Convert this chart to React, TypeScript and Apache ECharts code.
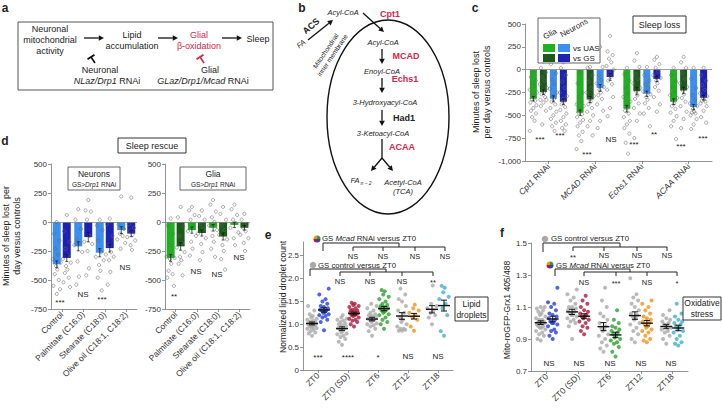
import React, { useEffect, useRef } from 'react';
import * as echarts from 'echarts';

const FF = "'Liberation Sans', Arial, Helvetica, sans-serif";
const RED = '#d3264a';
const LG = '#1fb21f';
const DG = '#1b5a1b';
const LB = '#3a8ff0';
const DB = '#1e22b4';
const GRAY = '#a9a9a9';

// ---------- panel c : sleep loss ----------
const cGenes = ['Cpt1', 'MCAD', 'Echs1', 'ACAA'];
const cGliaUAS = [-319, -471, -428, -351];
const cGliaGS = [-246, -326, -236, -228];
const cNeuronUAS = [-319, -200, -264, -409];
const cNeuronGS = [-351, -80, -101, -308];
const cPtsGliaUAS = [
  [-30, -80, -120, -150, -180, -220, -250, -270, -290, -320, -340, -360, -390, -420, -450, -480, -520, -560, -670],
  [-30, -150, -250, -300, -350, -380, -400, -430, -450, -470, -490, -520, -550, -580, -620, -680, -720, -780, -870],
  [20, -50, -120, -200, -260, -300, -350, -390, -420, -450, -480, -520, -560, -600, -640, -700, -800, -920],
  [20, -60, -130, -190, -240, -280, -310, -340, -370, -400, -430, -470, -510, -560, -620, -760],
];
const cPtsGliaGS = [
  [90, 20, -30, -80, -120, -160, -200, -230, -250, -270, -300, -330, -330, -360, -400, -450, -600],
  [30, 20, -60, -130, -200, -250, -290, -320, -350, -380, -420, -460, -500, -560, -620, -720],
  [180, 100, 30, -50, -100, -150, -200, -240, -280, -320, -370, -420, -480, -560, -750],
  [140, 80, 20, -40, -100, -150, -190, -230, -270, -310, -350, -400, -460, -540, -640],
];
const cPtsNeuronUAS = [
  [110, 60, -40, -110, -160, -210, -250, -290, -320, -350, -380, -420, -460, -500, -540, -580, -620, -670],
  [250, 100, 30, -60, -110, -150, -190, -220, -250, -280, -320, -380, -450, -560, -640],
  [30, -60, -120, -160, -200, -240, -270, -300, -330, -370, -420, -480, -620],
  [20, -100, -200, -280, -330, -370, -400, -430, -460, -470, -480, -500, -540, -600, -650],
];
const cPtsNeuronGS = [
  [80, 20, -60, -130, -200, -250, -290, -320, -350, -380, -410, -440, -480, -520, -560, -600, -640, -670],
  [370, 200, 160, 120, 80, 40, 0, -40, -80, -120, -160, -220, -300, -420, -510],
  [140, 110, 60, 20, -20, -60, -90, -120, -150, -190, -230, -300, -380, -460],
  [20, -60, -120, -170, -220, -260, -290, -310, -330, -340, -350, -370, -400, -450, -520, -580],
];

// ---------- panel d : sleep rescue ----------
const dConditions = ['Control', 'Palmitate (C16:0)', 'Stearate (C18:0)', 'Olive oil (C18:1, C18:2)'];
const dNeuLight = [-365, -210, -265, -70];
const dNeuDark = [-310, -130, -225, -100];
const dGliaLight = [-310, -70, -50, -25];
const dGliaDark = [-210, -95, -125, -50];
const dPtsNeuLight = [
  [0, -100, -160, -230, -280, -320, -350, -380, -410, -450, -500, -550, -580, -620],
  [110, 20, -60, -150, -180, -200, -260, -340, -470, -540],
  [20, -30, -70, -160, -260, -300, -330, -370, -420, -480, -590],
  [220, -20, -60, -100, -120, -150, -180, -230],
];
const dPtsNeuDark = [
  [60, -80, -170, -230, -290, -320, -350, -380, -410, -440, -480, -520, -560],
  [190, 100, 90, 20, -120, -170, -190, -250, -400, -460],
  [30, -20, -120, -200, -260, -280, -300, -330, -430, -540],
  [210, -20, -50, -80, -110, -130, -160, -200, -240],
];
const dPtsGliaLight = [
  [30, -30, -100, -200, -280, -300, -310, -320, -360, -420, -450, -480, -550],
  [130, 100, 60, 20, -30, -80, -120, -170, -230, -290],
  [190, 150, 90, 40, 0, -30, -70, -120, -170, -230, -300],
  [150, 110, 60, 20, -10, -50, -90, -140, -200],
];
const dPtsGliaDark = [
  [130, 40, -40, -120, -180, -220, -260, -300, -330, -360, -460],
  [100, 50, 20, -20, -60, -100, -140, -190, -260, -330],
  [130, 70, 20, -30, -70, -110, -150, -200, -250, -320, -410],
  [70, 20, -20, -50, -80, -110, -140, -180, -250],
];

// ---------- panels e / f ----------
const zt = ['ZT0', 'ZT0 (SD)', 'ZT6', 'ZT12', 'ZT18'];
const mcadColors = ['#2340d8', '#a81c3c', '#2f9e2f', '#f0921a', '#41aecb'];
const eControl = [
  [0.75, 0.8, 0.82, 0.85, 0.88, 0.9, 0.92, 0.93, 0.95, 0.96, 0.98, 1.0, 1.0, 1.02, 1.03, 1.05, 1.06, 1.08, 1.1, 1.12, 1.15, 1.18, 1.22, 1.3, 1.4],
  [0.55, 0.62, 0.68, 0.72, 0.75, 0.78, 0.8, 0.82, 0.85, 0.88, 0.9, 0.92, 0.95, 0.98, 1.0, 1.02, 1.05, 1.08, 1.1, 1.12, 1.15, 1.2],
  [0.75, 0.85, 0.9, 0.95, 0.98, 1.0, 1.02, 1.05, 1.08, 1.1, 1.1, 1.12, 1.15, 1.18, 1.2, 1.22, 1.25, 1.3, 1.35, 1.4, 1.45],
  [0.86, 0.86, 0.88, 0.9, 0.9, 0.95, 1.0, 1.05, 1.1, 1.15, 1.25, 1.3, 1.4, 1.5, 1.55, 1.65, 1.78],
  [1.0, 1.15, 1.2, 1.25, 1.3, 1.35, 1.4, 1.45, 1.85],
];
const eMcad = [
  [0.87, 1.05, 1.1, 1.15, 1.18, 1.2, 1.22, 1.25, 1.27, 1.3, 1.3, 1.32, 1.35, 1.38, 1.4, 1.45, 1.5, 1.55, 1.65, 1.78],
  [0.95, 1.0, 1.05, 1.08, 1.1, 1.12, 1.15, 1.18, 1.2, 1.2, 1.22, 1.25, 1.25, 1.28, 1.3, 1.3, 1.32, 1.35, 1.38, 1.4, 1.42, 1.45, 1.47],
  [0.9, 1.0, 1.05, 1.1, 1.15, 1.2, 1.22, 1.25, 1.28, 1.3, 1.32, 1.35, 1.35, 1.38, 1.4, 1.42, 1.45, 1.5, 1.55, 1.6, 1.65, 1.72, 1.75],
  [0.86, 0.95, 1.1, 1.15, 1.2, 1.25, 1.3, 1.35, 1.43],
  [0.75, 0.85, 1.2, 1.35, 1.45, 1.55, 1.6, 1.7, 1.8, 1.84],
];
const fControl = [
  [0.89, 0.9, 0.92, 0.93, 0.94, 0.95, 0.96, 0.97, 0.97, 0.98, 0.98, 0.99, 1.0, 1.0, 1.0, 1.01, 1.02, 1.02, 1.03, 1.04, 1.05, 1.06, 1.07, 1.08, 1.09, 1.1, 1.1],
  [0.9, 0.98, 1.0, 1.01, 1.02, 1.03, 1.04, 1.05, 1.05, 1.06, 1.07, 1.08, 1.09, 1.1, 1.1, 1.12, 1.14, 1.16, 1.18, 1.21],
  [0.82, 0.84, 0.86, 0.88, 0.9, 0.92, 0.93, 0.95, 0.96, 0.97, 0.98, 1.0, 1.02, 1.04, 1.06, 1.1, 1.14, 1.22],
  [0.88, 0.9, 0.93, 0.95, 0.97, 0.99, 1.0, 1.02, 1.03, 1.04, 1.05, 1.06, 1.08, 1.1, 1.12, 1.14, 1.16, 1.18, 1.28],
  [0.87, 0.9, 0.92, 0.94, 0.95, 0.96, 0.97, 0.98, 0.98, 0.99, 1.0, 1.01, 1.02, 1.03, 1.05, 1.08],
];
const fMcad = [
  [0.9, 0.92, 0.94, 0.95, 0.96, 0.98, 0.99, 1.0, 1.0, 1.01, 1.02, 1.03, 1.04, 1.05, 1.06, 1.08, 1.1, 1.12, 1.13, 1.22],
  [0.93, 0.95, 0.97, 0.98, 1.0, 1.01, 1.02, 1.03, 1.04, 1.04, 1.05, 1.06, 1.07, 1.08, 1.1, 1.12, 1.14, 1.17],
  [0.79, 0.82, 0.85, 0.87, 0.88, 0.89, 0.9, 0.91, 0.92, 0.93, 0.94, 0.95, 0.96, 0.97, 0.98, 1.0, 1.02, 1.08],
  [0.88, 0.89, 0.9, 0.92, 0.94, 0.95, 0.96, 0.97, 0.98, 0.99, 1.0, 1.01, 1.02, 1.03, 1.04, 1.06, 1.08, 1.1, 1.12, 1.14],
  [0.86, 0.87, 0.88, 0.9, 0.92, 0.94, 0.95, 0.96, 0.97, 0.98, 0.99, 1.0, 1.01, 1.02, 1.04, 1.06, 1.12],
];

// ---------- helpers ----------
const JIT = [0, -2.5, 2.5, -1.2, 1.2, -3.6, 3.6, -0.6, 0.6, -1.8, 1.8, -3, 3];
const mean = (a: number[]) => a.reduce((s, v) => s + v, 0) / a.length;
const sem = (a: number[]) => {
  const m = mean(a);
  const sd = Math.sqrt(a.reduce((s, v) => s + (v - m) * (v - m), 0) / (a.length - 1));
  return sd / Math.sqrt(a.length);
};

const richFor = (size: number, color: string) => ({
  i: { fontStyle: 'italic', fontSize: size, fontFamily: FF, fill: color, color },
});

const T = (x: number, y: number, text: string, o: any = {}) => {
  const size = o.size || 9;
  const color = o.color || '#222';
  let yy = y;
  if (/^\*+$/.test(text)) yy = y + 1.5;
  return {
    type: 'text', x, y: yy, rotation: o.rot || 0, z: 100,
    style: {
      text, fontSize: size, fontFamily: FF, fill: color,
      fontWeight: o.bold ? 'bold' : 'normal', fontStyle: o.italic ? 'italic' : 'normal',
      align: o.align || 'center', verticalAlign: 'middle', lineHeight: o.lh || size * 1.2,
      rich: richFor(size, color),
    },
  };
};
const L = (x1: number, y1: number, x2: number, y2: number, color = '#222', w = 1) => ({
  type: 'line', z: 100, shape: { x1, y1, x2, y2 }, style: { stroke: color, lineWidth: w },
});
const A = (x1: number, y1: number, x2: number, y2: number, color = '#111', w = 1.3, hs = 3.5) => {
  const dx = x2 - x1, dy = y2 - y1, len = Math.hypot(dx, dy);
  const ux = dx / len, uy = dy / len;
  const bx = x2 - ux * hs * 1.5, by = y2 - uy * hs * 1.5;
  return [
    L(x1, y1, bx, by, color, w),
    {
      type: 'polygon', z: 100,
      shape: { points: [[x2, y2], [bx - uy * hs * 0.8, by + ux * hs * 0.8], [bx + uy * hs * 0.8, by - ux * hs * 0.8]] },
      style: { fill: color },
    },
  ];
};
const R = (x: number, y: number, w: number, h: number, stroke = '#333', fill = 'none', lw = 1) => ({
  type: 'rect', z: 99, shape: { x, y, width: w, height: h }, style: { fill, stroke, lineWidth: lw },
});
const TBar = (cx: number, cy: number, ex: number, ey: number, color: string) => {
  const dx = ex - cx, dy = ey - cy, len = Math.hypot(dx, dy);
  const px = -dy / len * 4.2, py = dx / len * 4.2;
  return [L(cx, cy, ex, ey, color, 1.6), L(cx - px, cy - py, cx + px, cy + py, color, 1.8)];
};
const multiDot = (cx: number, cy: number) => {
  const cols = ['#2340d8', '#a81c3c', '#f0921a', '#2f9e2f'];
  return cols.map((c, i) => ({
    type: 'sector', z: 100,
    shape: { cx, cy, r: 3.5, r0: 0, startAngle: (i * Math.PI) / 2, endAngle: ((i + 1) * Math.PI) / 2 },
    style: { fill: c },
  }));
};
const dot = (cx: number, cy: number, color: string) => ({
  type: 'circle', z: 100, shape: { cx, cy, r: 3.3 }, style: { fill: color },
});

const axisLineStyle = { color: '#777', width: 0.8 };
const catAxis = (gi: number, data: string[], fmt?: any) => ({
  type: 'category', gridIndex: gi, data,
  axisLine: { show: true, onZero: false, lineStyle: axisLineStyle },
  axisTick: { show: true, alignWithLabel: true, length: 3, lineStyle: axisLineStyle },
  axisLabel: {
    interval: 0, rotate: 45, fontSize: 8.5, color: '#333', fontFamily: FF, margin: 4,
    formatter: fmt, rich: { i: { fontStyle: 'italic', fontSize: 8.5, fontFamily: FF, color: '#333' } },
  },
  splitLine: { show: false },
});
const valAxis = (gi: number, min: number, max: number, interval: number, fmt: any, extra: any = {}) => ({
  type: 'value', gridIndex: gi, min, max, interval,
  axisLine: { show: true, lineStyle: axisLineStyle },
  axisTick: { show: true, length: 3, lineStyle: axisLineStyle },
  splitLine: { show: false },
  axisLabel: { fontSize: 8, color: '#333', fontFamily: FF, margin: 4, formatter: fmt, ...(extra.axisLabel || {}) },
});

const errRender = (halfMean: number, cap: number, lw: number) => (params: any, api: any) => {
  const cat = api.value(0), m = api.value(1), s = api.value(2), dx = api.value(3);
  const c = api.coord([cat, m]);
  const t = api.coord([cat, m + s]);
  const b = api.coord([cat, m - s]);
  const x = c[0] + dx;
  const st = { stroke: '#111', lineWidth: lw };
  const ch: any[] = [
    { type: 'line', shape: { x1: x, y1: t[1], x2: x, y2: b[1] }, style: st },
    { type: 'line', shape: { x1: x - cap, y1: t[1], x2: x + cap, y2: t[1] }, style: st },
    { type: 'line', shape: { x1: x - cap, y1: b[1], x2: x + cap, y2: b[1] }, style: st },
  ];
  if (halfMean > 0) ch.push({ type: 'line', shape: { x1: x - halfMean, y1: c[1], x2: x + halfMean, y2: c[1] }, style: { stroke: '#111', lineWidth: 1.4 } });
  return { type: 'group', children: ch };
};

const hollowScatter = (xi: number, groups: number[][], dx: number, spread: number) => ({
  type: 'scatter', xAxisIndex: xi, yAxisIndex: xi, symbolSize: 3.2, z: 5,
  itemStyle: { color: 'rgba(255,255,255,0)', borderColor: '#666', borderWidth: 0.7 },
  data: groups.flatMap((arr, ci) => arr.map((v, k) => ({ value: [ci, v], symbolOffset: [dx + JIT[k % JIT.length] * spread, 0] }))),
});
const filledScatter = (xi: number, groups: number[][], dx: number, colors: string[] | string) => ({
  type: 'scatter', xAxisIndex: xi, yAxisIndex: xi, symbolSize: 4, z: 5,
  data: groups.flatMap((arr, ci) => arr.map((v, k) => ({
    value: [ci, v], symbolOffset: [dx + JIT[k % JIT.length] * 1.3, 0],
    itemStyle: { color: Array.isArray(colors) ? colors[ci] : colors },
  }))),
});
const barSeries = (xi: number, data: number[], color: string, width: number, gap: string, zero = false) => ({
  type: 'bar', xAxisIndex: xi, yAxisIndex: xi, data, barWidth: width, barGap: gap, z: 2,
  itemStyle: { color },
  markLine: zero ? { silent: true, symbol: 'none', label: { show: false }, lineStyle: { color: '#888', width: 0.8, type: 'solid' }, data: [{ yAxis: 0 }] } : undefined,
});
const barErr = (xi: number, vals: number[][], pts: number[][][], offs: number[]) => ({
  type: 'custom', xAxisIndex: xi, yAxisIndex: xi, z: 6, renderItem: errRender(0, 1.5, 0.7),
  encode: { x: 0, y: 1 },
  data: vals.flatMap((series, si) => series.map((v, ci) => [ci, v, sem(pts[si][ci]) * 0.6, offs[si]])),
});
const meanErr = (xi: number, groupsA: number[][], groupsB: number[][]) => ({
  type: 'custom', xAxisIndex: xi, yAxisIndex: xi, z: 6, renderItem: errRender(6, 3, 1),
  encode: { x: 0, y: 1 },
  data: [
    ...groupsA.map((g, ci) => [ci, mean(g), sem(g), -6]),
    ...groupsB.map((g, ci) => [ci, mean(g), sem(g), 6]),
  ],
});

function buildGraphics() {
  const g: any[] = [];
  // panel letters
  g.push(T(5, 8, 'a', { bold: true, size: 12 }), T(302, 8, 'b', { bold: true, size: 12 }), T(475, 8, 'c', { bold: true, size: 12 }),
    T(5, 141, 'd', { bold: true, size: 12 }), T(268, 235, 'e', { bold: true, size: 12 }), T(502, 233, 'f', { bold: true, size: 12 }));

  // ---- panel a
  g.push(R(18, 22, 255, 68, '#555', 'none', 1));
  g.push(T(50, 29, 'Neuronal'), T(50, 40, 'mitochondrial'), T(50, 51, 'activity'));
  g.push(...A(84, 38, 104, 38));
  g.push(T(132, 35, 'Lipid'), T(132, 46, 'accumulation'));
  g.push(...A(158, 38, 178, 38));
  g.push(T(199, 35, 'Glial', { color: RED }), T(199, 46, 'β-oxidation', { color: RED }));
  g.push(...A(222, 38, 242, 38));
  g.push(T(258, 39, 'Sleep'));
  g.push(...TBar(91, 57, 95, 63, '#111'));
  g.push(T(100, 70, 'Neuronal'), T(107, 81, '{i|NLaz/Drp1} RNAi'));
  g.push(...TBar(200, 57, 204, 63, RED));
  g.push(T(210, 70, 'Glial'), T(203, 81, '{i|GLaz/Drp1/Mcad} RNAi'));

  // ---- panel b
  g.push({ type: 'ellipse', z: 90, shape: { cx: 388, cy: 117, rx: 61, ry: 97 }, style: { fill: 'none', stroke: '#111', lineWidth: 1.4 } });
  g.push(T(343, 12, 'Acyl-CoA', { italic: true, size: 7.5 }));
  g.push(T(390, 14, 'Cpt1', { color: RED, bold: true, size: 9 }));
  g.push(T(311, 26, 'ACS', { bold: true, size: 9, rot: 0.7 }));
  g.push(T(301, 44, 'FA', { italic: true, size: 7.5, rot: 0.7 }));
  g.push(...A(308, 40, 333, 20));
  g.push(...A(363, 13, 384, 32));
  g.push(T(329, 53, 'Mitochondrial\ninner membrane', { size: 6.8, rot: 0.98, lh: 8 }));
  g.push(T(383, 42, 'Acyl-CoA', { italic: true, size: 7.5 }));
  g.push(...A(382, 49, 382, 64));
  g.push(T(406, 56, 'MCAD', { color: RED, bold: true, size: 9 }));
  g.push(T(382, 71, 'Enoyl-CoA', { italic: true, size: 7.5 }));
  g.push(...A(382, 78, 382, 93));
  g.push(T(405, 79, 'Echs1', { color: RED, bold: true, size: 9 }));
  g.push(T(385, 102, '3-Hydroxyacyl-CoA', { italic: true, size: 7.5 }));
  g.push(...A(382, 110, 382, 126));
  g.push(T(404, 118, 'Had1', { bold: true, size: 9 }));
  g.push(T(383, 133, '3-Ketoacyl-CoA', { italic: true, size: 7.5 }));
  g.push(L(382, 139, 382, 158, '#111', 1.3));
  g.push(...A(382, 158, 371, 171), ...A(382, 158, 393, 171));
  g.push(T(402, 147, 'ACAA', { color: RED, bold: true, size: 9 }));
  g.push(T(355, 180, 'FA', { italic: true, size: 7.5 }), T(366, 183, 'n − 2', { italic: true, size: 5 }));
  g.push(T(403, 182, 'Acetyl-CoA', { italic: true, size: 7.5 }), T(403, 191, '(TCA)', { italic: true, size: 7.5 }));

  // ---- panel c
  g.push(T(481, 92, 'Minutes of sleep lost\nper day versus controls', { size: 9, rot: Math.PI / 2, lh: 11 }));
  g.push(R(538, 18, 62, 45, '#555', '#fff', 0.9));
  g.push(T(550, 34, 'Glia', { size: 8, rot: 0.5 }), T(574, 28, 'Neurons', { size: 8, rot: 0.5 }));
  g.push(R(543, 44, 12, 8, LG, LG, 0), R(558, 44, 12, 8, LB, LB, 0), R(543, 54, 12, 8, DG, DG, 0), R(558, 54, 12, 8, DB, DB, 0));
  g.push(T(573, 48, 'vs UAS', { size: 8, align: 'left' }), T(573, 58, 'vs GS', { size: 8, align: 'left' }));
  g.push(R(633, 16, 53, 17, '#333', '#fff', 1), T(659.5, 24.5, 'Sleep loss', { size: 9 }));
  ([['***', 540, 138], ['***', 560, 134], ['***', 587, 153], ['NS', 611, 139], ['***', 634, 143], ['**', 654, 133], ['***', 681, 145], ['***', 703, 137]] as any[])
    .forEach(([t, x, y]) => g.push(T(x, y, t, { size: 8 })));

  // ---- panel d
  g.push(R(118, 138, 68, 15, '#333', '#fff', 1), T(152, 145.5, 'Sleep rescue', { size: 9 }));
  g.push(T(11, 236, 'Minutes of sleep lost  per\nday versus controls', { size: 9, rot: Math.PI / 2, lh: 11 }));
  g.push(R(68, 167, 52, 23, '#555', '#fff', 0.9), T(94, 173.5, 'Neurons', { size: 8.5 }), T(94, 184, 'GS>{i|Drp1} RNAi', { size: 6.5 }));
  g.push(R(180, 167, 66, 23, '#555', '#fff', 0.9), T(213, 173.5, 'Glia', { size: 8.5 }), T(213, 184, 'GS>{i|Drp1} RNAi', { size: 6.5 }));
  ([['***', 60, 301], ['NS', 83, 294], ['***', 102, 298], ['NS', 125, 267], ['**', 174, 295], ['NS', 196, 271], ['NS', 217, 274], ['NS', 239, 257]] as any[])
    .forEach(([t, x, y]) => g.push(T(x, y, t, { size: 8 })));

  // ---- panel e
  g.push(T(283, 297, 'Normalized lipid droplet count', { size: 8.5, rot: Math.PI / 2 }));
  g.push(...multiDot(317, 239), T(322, 238.5, 'GS {i|Mcad} RNAi versus ZT0', { size: 7.8, align: 'left' }));
  g.push(L(323, 243, 399, 243), L(323, 243, 323, 251), L(399, 243, 399, 247), L(353, 247, 445, 247));
  [353, 383, 415, 445].forEach((x) => { g.push(L(x, 247, x, 251), T(x, 256, 'NS', { size: 7.5 })); });
  g.push(dot(313, 265, GRAY), T(318, 265, 'GS control versus ZT0', { size: 7.8, align: 'left' }));
  g.push(L(310, 269, 386, 269), L(310, 269, 310, 276), L(386, 269, 386, 272), L(340, 272, 433, 272));
  ([[340, 'NS'], [370, 'NS'], [402, 'NS'], [433, '**']] as any[]).forEach(([x, t]) => { g.push(L(x, 272, x, 276), T(x, 281, t, { size: 7.5 })); });
  ([['***', 318], ['****', 348], ['*', 378], ['NS', 408], ['NS', 438]] as any[]).forEach(([t, x]) => g.push(T(x, 356, t, { size: 8 })));
  g.push(R(455, 297, 33, 24, '#333', '#fff', 1), T(471.5, 309, 'Lipid\ndroplets', { size: 8.5, lh: 11 }));

  // ---- panel f
  g.push(T(507, 310, 'Mito-roGFP-Grx1 405/488', { size: 8.5, rot: Math.PI / 2 }));
  g.push(dot(545, 239, GRAY), T(551, 238.5, 'GS control versus ZT0', { size: 7.8, align: 'left' }));
  g.push(L(543, 243, 620, 243), L(543, 243, 543, 252), L(620, 243, 620, 247), L(573, 247, 667, 247));
  ([[573, '**'], [604, 'NS'], [637, 'NS'], [667, 'NS']] as any[]).forEach(([x, t]) => { g.push(L(x, 247, x, 251), T(x, 255.5, t, { size: 7.5 })); });
  g.push(...multiDot(550, 265), T(556, 265, 'GS {i|Mcad} RNAi versus ZT0', { size: 7.8, align: 'left' }));
  g.push(L(555, 269, 630, 269), L(555, 269, 555, 276), L(630, 269, 630, 272), L(584, 272, 677, 272));
  ([[584, 'NS'], [616, '***'], [647, 'NS'], [677, '*']] as any[]).forEach(([x, t]) => { g.push(L(x, 272, x, 276), T(x, 282, t, { size: 7.5 })); });
  [549, 579, 610, 641, 671].forEach((x) => g.push(T(x, 363, 'NS', { size: 8 })));
  g.push(R(683, 297, 38, 23, '#333', '#fff', 1), T(702, 308.5, 'Oxidative\nstress', { size: 8.5, lh: 11 }));
  return g;
}

export default function App() {
  const ref = useRef<HTMLDivElement>(null);
  useEffect(() => {
    if (!ref.current) return;
    const chart = echarts.init(ref.current, undefined, { renderer: 'svg' });
    const fmtThousands = (v: number) => v.toLocaleString('en-US');
    const option: any = {
      animation: false,
      backgroundColor: '#fff',
      textStyle: { fontFamily: FF },
      grid: [
        { left: 525, top: 24, width: 187, height: 137 },
        { left: 51, top: 164, width: 86, height: 145 },
        { left: 165, top: 164, width: 85, height: 145 },
        { left: 303, top: 242, width: 150, height: 128 },
        { left: 531, top: 243, width: 157, height: 128 },
      ],
      xAxis: [
        catAxis(0, cGenes, (v: string) => `{i|${v}} RNAi`),
        catAxis(1, dConditions),
        catAxis(2, dConditions),
        catAxis(3, zt),
        catAxis(4, zt),
      ],
      yAxis: [
        valAxis(0, -1000, 500, 250, fmtThousands),
        valAxis(1, -750, 500, 250, fmtThousands),
        valAxis(2, -750, 500, 250, fmtThousands),
        valAxis(3, 0, 2.8, 0.5, (v: number) => (v === 0 ? '0' : v.toFixed(1)), { axisLabel: { showMaxLabel: false } }),
        valAxis(4, 0.7, 1.5, 0.2, (v: number) => v.toFixed(1)),
      ],
      series: [
        barSeries(0, cGliaUAS, LG, 7, '43%', true),
        barSeries(0, cGliaGS, DG, 7, '43%'),
        barSeries(0, cNeuronUAS, LB, 7, '43%'),
        barSeries(0, cNeuronGS, DB, 7, '43%'),
        hollowScatter(0, cPtsGliaUAS, -15, 1),
        hollowScatter(0, cPtsGliaGS, -5, 1),
        hollowScatter(0, cPtsNeuronUAS, 5, 1),
        hollowScatter(0, cPtsNeuronGS, 15, 1),
        barErr(0, [cGliaUAS, cGliaGS, cNeuronUAS, cNeuronGS], [cPtsGliaUAS, cPtsGliaGS, cPtsNeuronUAS, cPtsNeuronGS], [-15, -5, 5, 15]),

        barSeries(1, dNeuLight, LB, 8, '25%', true),
        barSeries(1, dNeuDark, DB, 8, '25%'),
        hollowScatter(1, dPtsNeuLight, -5, 1.1),
        hollowScatter(1, dPtsNeuDark, 5, 1.1),
        barErr(1, [dNeuLight, dNeuDark], [dPtsNeuLight, dPtsNeuDark], [-5, 5]),

        barSeries(2, dGliaLight, LG, 8, '25%', true),
        barSeries(2, dGliaDark, DG, 8, '25%'),
        hollowScatter(2, dPtsGliaLight, -5, 1.1),
        hollowScatter(2, dPtsGliaDark, 5, 1.1),
        barErr(2, [dGliaLight, dGliaDark], [dPtsGliaLight, dPtsGliaDark], [-5, 5]),

        filledScatter(3, eControl, -6, GRAY),
        filledScatter(3, eMcad, 6, mcadColors),
        meanErr(3, eControl, eMcad),

        filledScatter(4, fControl, -6, GRAY),
        filledScatter(4, fMcad, 6, mcadColors),
        meanErr(4, fControl, fMcad),
      ],
      graphic: buildGraphics(),
    };
    chart.setOption(option);
    return () => chart.dispose();
  }, []);
  return <div ref={ref} style={{ position: 'absolute', left: 0, top: 0, width: 722, height: 408, background: '#fff' }} />;
}
